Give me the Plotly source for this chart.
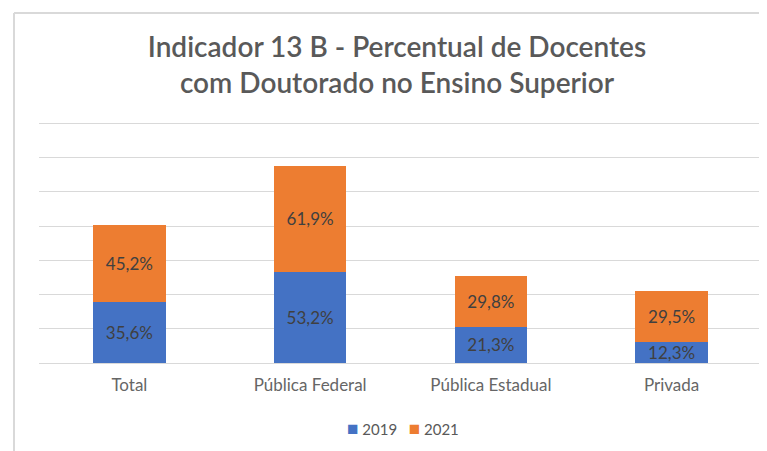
import plotly.graph_objects as go

categories = ["Total", "Pública Federal", "Pública Estadual", "Privada"]
values_2019 = [35.6, 53.2, 21.3, 12.3]
values_2021 = [45.2, 61.9, 29.8, 29.5]
series_names = ["2019", "2021"]
colors = ["#4472C4", "#ED7D31"]

# page body has an 8px margin, so the figure is laid out 8px up/left
W, H = 759, 443
L, R, T, B = 31, 5, 112, 88

def fmt(v):
    return f"{v:.1f}".replace(".", ",") + "%"

FONT = "Lato"
fig = go.Figure()
for name, vals, col in zip(series_names, [values_2019, values_2021], colors):
    fig.add_trace(go.Bar(
        x=categories, y=vals, name=name,
        marker=dict(color=col, line=dict(width=0)),
        text=[fmt(v) for v in vals], textposition="inside",
        insidetextanchor="middle", constraintext="none",
        textfont=dict(family=FONT, size=17, color="#404040"),
        cliponaxis=False, showlegend=False,
    ))

pw = W - L - R
ph = H - T - B
def px_x(px):
    return (px - L) / pw
def px_y(py):
    return (H - B - py) / ph

legend_text = (
    f"<span style='color:{colors[0]};font-size:19px'>■</span> {series_names[0]}   "
    f"<span style='color:{colors[1]};font-size:19px'>■</span> {series_names[1]}"
)

fig.update_layout(
    width=W, height=H,
    margin=dict(l=L, r=R, t=T, b=B),
    barmode="stack", bargap=0.6,
    plot_bgcolor="white", paper_bgcolor="white",
    font=dict(family=FONT, color="#595959"),
    title=dict(
        text="Indicador 13 B - Percentual de Docentes<br>com Doutorado no Ensino Superior",
        x=389 / W, xanchor="center", y=1 - 49 / H, yanchor="middle",
        font=dict(family=FONT, size=28, color="#595959", weight=600),
    ),
    xaxis=dict(showline=False, ticks="", tickfont=dict(size=17, color="#666666"),
               ticklabelstandoff=10, fixedrange=True),
    yaxis=dict(range=[0, 142], tick0=0, dtick=20, showticklabels=False, gridcolor="#D9D9D9",
               gridwidth=1, zeroline=True, zerolinecolor="#D9D9D9", zerolinewidth=1),
    annotations=[
        dict(text=legend_text, xref="paper", yref="paper", x=px_x(395), y=px_y(419),
             xanchor="center", yanchor="middle", showarrow=False,
             font=dict(family=FONT, size=15, color="#595959")),
    ],
    shapes=[
        dict(type="line", xref="paper", yref="paper", x0=px_x(6), x1=px_x(800),
             y0=px_y(5), y1=px_y(5), line=dict(color="#D9D9D9", width=2)),
        dict(type="line", xref="paper", yref="paper", x0=px_x(6), x1=px_x(6),
             y0=px_y(5), y1=px_y(500), line=dict(color="#D9D9D9", width=2)),
    ],
)

fig.write_html("out.html")
